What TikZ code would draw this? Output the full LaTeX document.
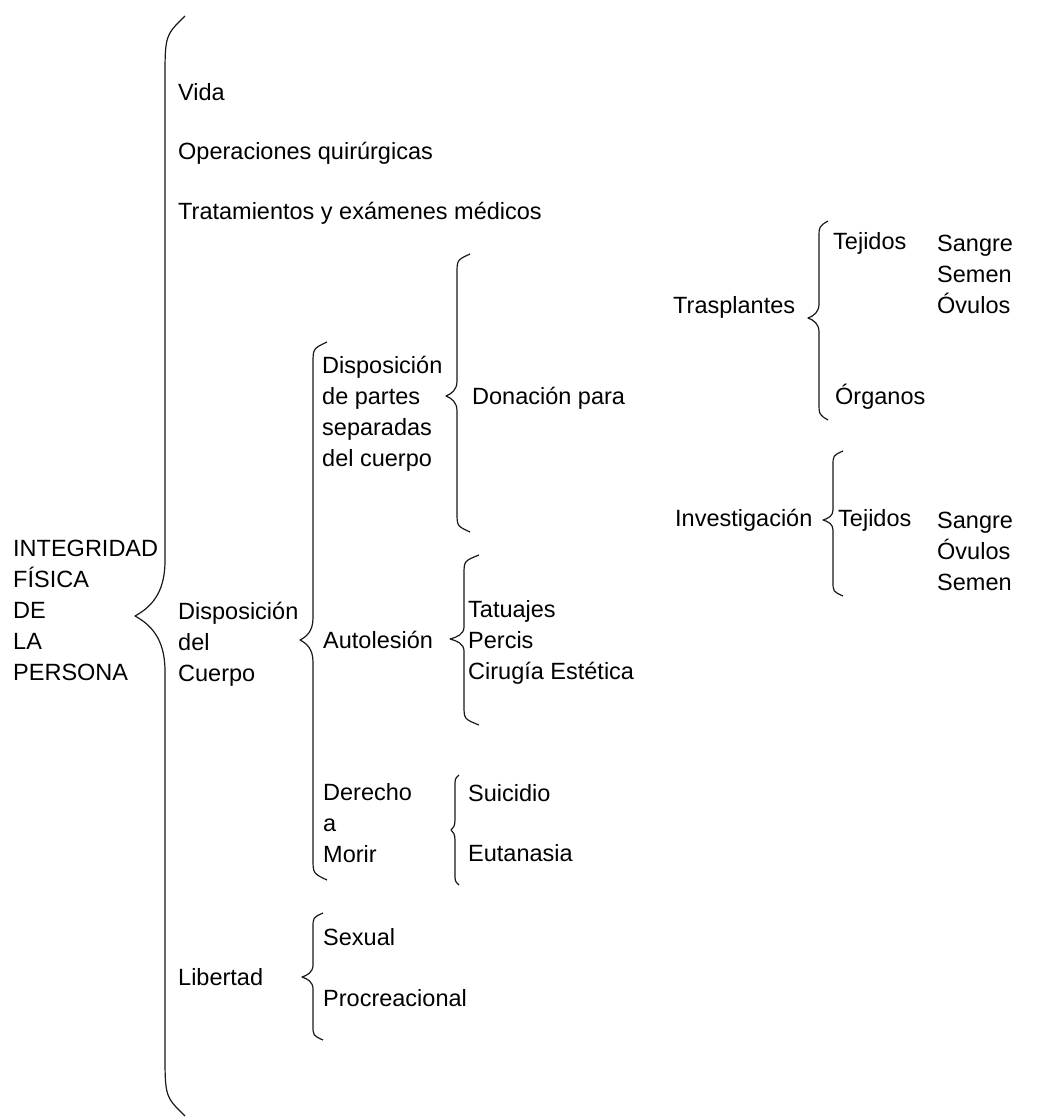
\documentclass[tikz,border=0pt]{standalone}
\usepackage{fontspec}
\setmainfont{Liberation Sans}

% llave: x punta arriba/abajo, x linea, x pico, y arriba, y medio, y abajo, brazo, pico
\newcommand{\llave}[8]{%
  \draw[llave] (#1,#4) .. controls (#2,{#4+0.3*#7}) .. (#2,{#4+#7})
    -- (#2,{#5-#8}) .. controls (#2,{#5-0.4*#8}) and ({(#2+#3)/2},{#5-0.15*#8}) .. (#3,#5)
    .. controls ({(#2+#3)/2},{#5+0.15*#8}) and (#2,{#5+0.4*#8}) .. (#2,{#5+#8})
    -- (#2,{#6-#7}) .. controls (#2,{#6-0.3*#7}) .. (#1,#6);}

\begin{document}
\begin{tikzpicture}[x=1pt,y=-1pt,
    texto/.style={anchor=west,inner sep=0pt,align=left,font=\fontsize{23.5}{31}\selectfont},
    llave/.style={line width=1.2pt,line join=round,color=black!90}]

            % \draw [help lines] (0,0) grid (1038,1120);
            \useasboundingbox (0,0) rectangle (1038,1120);

            \path   (13,610) node (integridad) [texto] {INTEGRIDAD\\FÍSICA\\DE\\LA\\PERSONA}

                    (178,92) node (vida) [texto] {Vida}
                    (178,153) node (operaciones) [texto] {Operaciones quirúrgicas}
                    (178,213) node (tratamientos) [texto] {Tratamientos y exámenes médicos}
                    (178,644) node (cuerpo) [texto] {Disposición\\del\\Cuerpo}
                    (178,977) node (libertad) [texto] {Libertad}

                    (322,414) node (partes) [texto] {Disposición\\de partes\\separadas\\del cuerpo}
                    (323,640) node (autolesion) [texto] {Autolesión}
                    (323,823) node (morir) [texto] {Derecho\\a\\Morir}

                    (472,398) node (donacion) [texto] {Donación para}
                    (468,642) node (tatuajes) [texto] {Tatuajes\\Percis\\Cirugía Estética}
                    (468,793) node (suicidio) [texto] {Suicidio}
                    (468,853) node (eutanasia) [texto] {Eutanasia}

                    (323,937) node (sexual) [texto] {Sexual}
                    (323,998) node (procreacional) [texto] {Procreacional}

                    (673,307) node (trasplantes) [texto] {Trasplantes}
                    (675,520) node (investigacion) [texto] {Investigación}

                    (833,243) node (tejidosa) [texto] {Tejidos}
                    (835,397) node (organos) [texto] {Órganos}
                    (838,520) node (tejidosb) [texto] {Tejidos}

                    (937,274) node (sangrea) [texto] {Sangre\\Semen\\Óvulos}
                    (937,551) node (sangreb) [texto] {Sangre\\Óvulos\\Semen};

            \llave{185}{165}{135}{16}{616}{1116}{65}{55}
            \llave{327}{313}{300}{342}{640}{880}{22}{22}
            \llave{470}{457}{446}{254}{396}{532}{20}{15}
            \llave{479}{464}{450}{555}{639}{725}{20}{12}
            \llave{459}{455}{451}{775}{830}{885}{12}{10}
            \llave{323}{313}{302}{913}{977}{1040}{15}{12}
            \llave{828}{819}{808}{221}{318}{420}{18}{14}
            \llave{843}{833}{823}{451}{520}{596}{15}{10}
        \end{tikzpicture}
\end{document}
